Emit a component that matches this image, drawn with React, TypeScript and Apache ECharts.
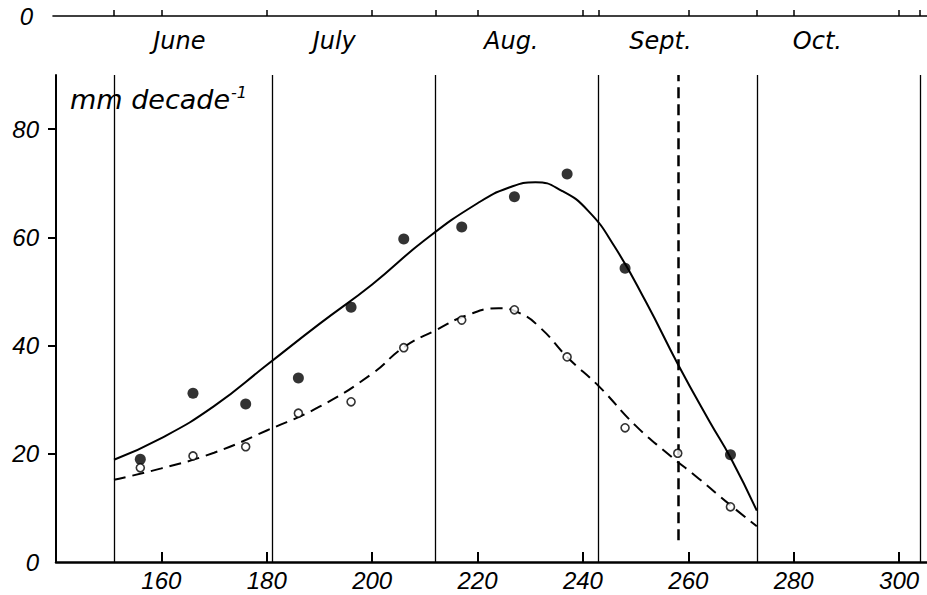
import React, { useEffect, useRef } from "react";
import * as echarts from "echarts";

// decade mid-days and observed values
const decadeDays = [156, 166, 176, 186, 196, 206, 217, 227, 237, 248, 258, 268];
const filledValues: (number | null)[] = [19.0, 31.2, 29.2, 34.0, 47.1, 59.7, 61.9, 67.5, 71.7, 54.3, null, 19.8];
const openValues = [17.4, 19.6, 21.3, 27.5, 29.6, 39.6, 44.7, 46.6, 37.9, 24.8, 20.1, 10.2];

// fitted curves (day, mm/decade)
const solidCurveDays = [151, 160, 170, 180, 190, 200, 210, 220, 226, 231, 236, 241, 246, 252, 258, 264, 268, 273];
const solidCurveValues = [18.9, 22.9, 28.8, 36.4, 44.0, 51.3, 59.5, 66.3, 69.2, 70.2, 68.6, 64.9, 58.3, 48.0, 36.6, 26.0, 19.3, 9.5];
const dashedCurveDays = [151, 160, 170, 180, 190, 200, 206, 212, 218, 224, 228, 232, 237, 243, 250, 256, 262, 268, 273];
const dashedCurveValues = [15.2, 17.3, 20.2, 24.3, 28.7, 34.8, 39.7, 42.8, 45.6, 46.9, 46.0, 43.2, 37.9, 32.5, 25.2, 20.1, 15.4, 10.5, 6.6];

// month boundaries (day of year) and the dashed marker
const monthLineDays = [151, 181, 212, 243, 273, 304];
const dashedMarkerDay = 258;
const dashedMarkerRange = [4, 90];

// axes
const xTickValues = [160, 180, 200, 220, 240, 260, 280, 300];
const yTickValues = [0, 20, 40, 60, 80];
const topTickDays = [151, 160, 180, 200, 212, 220, 240, 243, 260, 273, 280, 300, 304];
const monthNames = ["June", "July", "Aug.", "Sept.", "Oct."];
const monthLabelDays = [163.4, 192.8, 226.4, 254.7, 284.5];

const numFont = "Liberation Sans";
const wordFont = "DejaVu Sans";

export default function App() {
  const ref = useRef<HTMLDivElement>(null);
  useEffect(() => {
    document.body.style.margin = "0";
    const chart = echarts.init(ref.current!, null, { renderer: "svg" });
    const zip = (xs: number[], ys: (number | null)[]) => xs.map((x, i) => [x, ys[i]]);
    const option: any = {
      animation: false,
      backgroundColor: "#ffffff",
      grid: [
        { left: 56, right: 0, top: 75, bottom: 33 },
        { left: 53, right: 0, top: 0, height: 16 },
      ],
      xAxis: [
        {
          gridIndex: 0,
          type: "value",
          min: 140,
          max: 305.3,
          axisLine: { show: true, lineStyle: { color: "#000", width: 2.5 } },
          axisTick: { show: true, inside: true, length: 10, customValues: xTickValues, lineStyle: { color: "#000", width: 2 } },
          axisLabel: {
            customValues: xTickValues,
            margin: 6,
            color: "#000",
            fontFamily: numFont,
            fontStyle: "italic",
            fontSize: 24,
          },
          splitLine: { show: false },
        },
        {
          gridIndex: 1,
          type: "value",
          position: "bottom",
          min: 139.43,
          max: 305.3,
          axisLine: { show: true, lineStyle: { color: "#000", width: 1.6 } },
          axisTick: { show: true, inside: true, length: 6, customValues: topTickDays, lineStyle: { color: "#000", width: 1.5 } },
          axisLabel: {
            customValues: monthLabelDays,
            formatter: (v: number) => {
              const i = monthLabelDays.findIndex((d) => Math.abs(d - v) < 1e-6);
              return i >= 0 ? monthNames[i] : "";
            },
            margin: 13,
            color: "#000",
            fontFamily: wordFont,
            fontStyle: "italic",
            fontSize: 24,
          },
          splitLine: { show: false },
        },
      ],
      yAxis: [
        {
          gridIndex: 0,
          type: "value",
          min: 0,
          max: 90,
          axisLine: { show: true, lineStyle: { color: "#000", width: 2 } },
          axisTick: { show: true, inside: false, length: 8, customValues: yTickValues.filter((v) => v > 0), lineStyle: { color: "#000", width: 2 } },
          axisLabel: {
            customValues: yTickValues,
            margin: 17,
            color: "#000",
            fontFamily: numFont,
            fontStyle: "italic",
            fontSize: 24,
          },
          splitLine: { show: false },
        },
        {
          gridIndex: 1,
          type: "value",
          min: 0,
          max: 1,
          axisLine: { show: false },
          axisTick: { show: false },
          axisLabel: {
            customValues: [0],
            margin: 20,
            color: "#000",
            fontFamily: numFont,
            fontStyle: "italic",
            fontSize: 24,
          },
          splitLine: { show: false },
        },
      ],
      graphic: [
        {
          type: "text",
          left: 70,
          top: 86,
          silent: true,
          style: {
            text: "mm decade",
            fill: "#000",
            font: `italic 27px "${wordFont}"`,
          },
        },
        {
          type: "text",
          left: 231,
          top: 84,
          silent: true,
          style: {
            text: "-1",
            fill: "#000",
            font: `italic 16px "${wordFont}"`,
          },
        },
      ],
      series: [
        {
          name: "curve-solid",
          type: "line",
          xAxisIndex: 0,
          yAxisIndex: 0,
          data: zip(solidCurveDays, solidCurveValues),
          smooth: 0.5,
          showSymbol: false,
          symbol: "none",
          lineStyle: { color: "#000", width: 2 },
          silent: true,
          z: 3,
          markLine: {
            silent: true,
            symbol: ["none", "none"],
            label: { show: false },
            lineStyle: { color: "#000", width: 1.3, type: "solid" },
            data: [
              ...monthLineDays.map((d) => [{ coord: [d, 0] }, { coord: [d, 90] }]),
              [
                { coord: [dashedMarkerDay, dashedMarkerRange[0]], lineStyle: { color: "#000", width: 2.5, type: [11, 6] } },
                { coord: [dashedMarkerDay, dashedMarkerRange[1]] },
              ],
            ],
          },
        },
        {
          name: "curve-dashed",
          type: "line",
          xAxisIndex: 0,
          yAxisIndex: 0,
          data: zip(dashedCurveDays, dashedCurveValues),
          smooth: 0.5,
          showSymbol: false,
          symbol: "none",
          lineStyle: { color: "#000", width: 2, type: [12, 7] },
          silent: true,
          z: 3,
        },
        {
          name: "filled",
          type: "scatter",
          xAxisIndex: 0,
          yAxisIndex: 0,
          data: zip(decadeDays, filledValues).filter((p) => p[1] !== null),
          symbol: "circle",
          symbolSize: 11,
          itemStyle: { color: "#000" },
          z: 5,
        },
        {
          name: "open",
          type: "scatter",
          xAxisIndex: 0,
          yAxisIndex: 0,
          data: zip(decadeDays, openValues),
          symbol: "circle",
          symbolSize: 8,
          itemStyle: { color: "#fff", borderColor: "#000", borderWidth: 1.6 },
          z: 6,
        },
      ],
    };
    chart.setOption(option);
    return () => chart.dispose();
  }, []);
  return (
    <div
      ref={ref}
      style={{ position: "fixed", left: 0, top: 0, width: 927, height: 595, background: "#fff" }}
    />
  );
}
